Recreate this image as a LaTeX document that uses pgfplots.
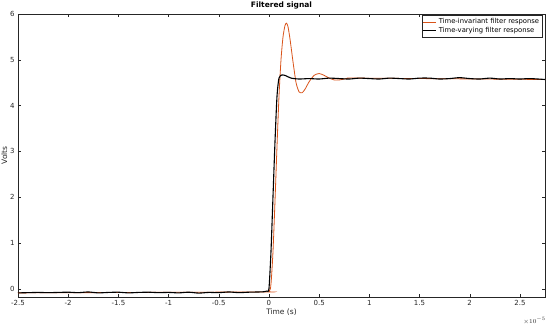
\documentclass[border=0pt]{standalone}
\usepackage{fontspec}
\setmainfont{DejaVu Sans}
\usepackage{pgfplots}
\pgfplotsset{compat=1.18}
\usetikzlibrary{calc}
\definecolor{morange}{rgb}{0.85,0.325,0.098}
\definecolor{maxis}{rgb}{0.15,0.15,0.15}

% time in units of 1e-5 s
\pgfplotstableread{
t v
-2.50 -0.09
-2.40 -0.085
-2.30 -0.08
-2.20 -0.085
-2.10 -0.08
-2.00 -0.075
-1.90 -0.085
-1.80 -0.07
-1.70 -0.09
-1.60 -0.08
-1.50 -0.075
-1.40 -0.09
-1.30 -0.08
-1.20 -0.075
-1.10 -0.085
-1.00 -0.08
-0.90 -0.09
-0.80 -0.075
-0.70 -0.095
-0.60 -0.08
-0.50 -0.085
-0.40 -0.07
-0.30 -0.085
-0.20 -0.075
-0.10 -0.07
-0.05 -0.065
-0.02 -0.05
0.00 0.0
0.02 0.8
0.04 2.0
0.06 3.2
0.08 4.2
0.10 4.6
0.13 4.67
0.17 4.65
0.22 4.60
0.30 4.58
0.40 4.59
0.50 4.58
0.60 4.60
0.70 4.59
0.80 4.58
0.90 4.60
1.00 4.59
1.10 4.58
1.20 4.60
1.30 4.59
1.40 4.58
1.50 4.60
1.60 4.60
1.70 4.58
1.80 4.59
1.90 4.61
2.00 4.59
2.10 4.58
2.20 4.60
2.30 4.58
2.40 4.59
2.50 4.58
2.60 4.59
2.75 4.57
}\varying

\pgfplotstableread{
t v
-2.50 -0.09
-0.10 -0.07
0.00 -0.06
0.02 0.1
0.04 0.8
0.06 1.9
0.08 3.1
0.10 4.2
0.12 5.0
0.14 5.5
0.16 5.75
0.175 5.8
0.19 5.72
0.21 5.45
0.24 4.95
0.27 4.50
0.30 4.30
0.33 4.28
0.36 4.36
0.40 4.52
0.45 4.66
0.50 4.70
0.55 4.66
0.60 4.60
0.65 4.56
0.70 4.56
0.75 4.58
0.80 4.60
0.90 4.60
2.75 4.57
}\invariant

\begin{document}
\begin{tikzpicture}
\begin{axis}[
  scale only axis,
  width=527pt, height=283pt,
  xmin=-2.5, xmax=2.75,
  ymin=-0.18, ymax=6,
  xtick={-2.5,-2,...,2.5},
  ytick={0,1,...,6},
  tick align=inside,
  major tick length=3pt,
  axis line style={maxis, line width=0.4pt},
  tick style={maxis, line width=0.4pt},
  ticklabel style={font=\fontsize{7}{8}\selectfont, text=maxis},
  /pgf/number format/assume math mode=true,
  xticklabel style={/pgf/number format/fixed},
  xlabel={Time (s)},
  ylabel={Volts},
  label style={font=\fontsize{7.5}{9}\selectfont, text=maxis},
  xlabel style={yshift=4pt},
  ylabel style={yshift=-4pt},
  title={\bfseries Filtered signal},
  title style={font=\fontsize{7.5}{9}\selectfont, yshift=-5pt},
  legend style={at={(rel axis cs:0.995,0.995)}, anchor=north east,
    font=\fontsize{6.8}{7.8}\selectfont, draw=maxis, line width=0.4pt,
    inner sep=1pt, row sep=-2pt, cells={anchor=west}},
  legend image code/.code={\draw[#1] (0cm,0cm) -- (0.45cm,0cm);},
  clip=true,
]
\addplot[morange, line width=0.8pt, smooth, tension=0.4] table[x=t,y=v] {\invariant};
\addlegendentry{Time-invariant filter response}
\addplot[black, line width=1.1pt, smooth, tension=0.4] table[x=t,y=v] {\varying};
\addlegendentry{Time-varying filter response}
\coordinate (ll) at (rel axis cs:0,0);
\coordinate (ur) at (rel axis cs:1,1);
\coordinate (lr) at (rel axis cs:1,0);
\end{axis}
\node[anchor=north east, font=\fontsize{6}{7}\selectfont, text=maxis, inner sep=0pt]
  at ($(lr)+(1pt,-20pt)$) {$\times 10^{-5}$};
\pgfresetboundingbox
\path[use as bounding box] ($(ll)+(-18pt,-31pt)$) rectangle ($(ur)+(5pt,14pt)$);
\end{tikzpicture}
\end{document}
